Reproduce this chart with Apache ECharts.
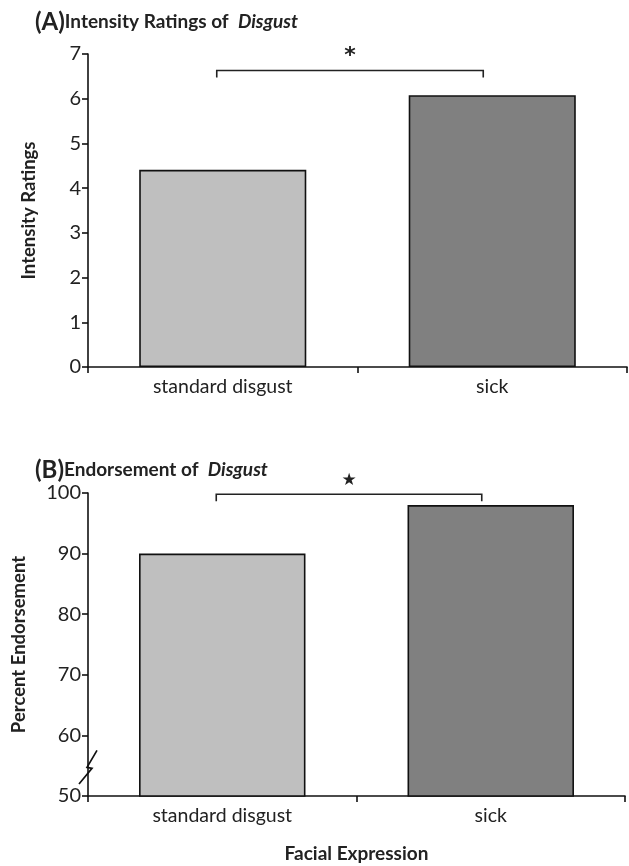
<!DOCTYPE html>
<html><head><meta charset="utf-8">
<script src="https://cdn.jsdelivr.net/npm/echarts@6/dist/echarts.min.js"></script>
<style>html,body{margin:0;padding:0;background:#fff}#c{width:629px;height:866px}</style>
</head><body><div id="c"></div>
<script>
const categories = ['standard disgust', 'sick'];
const intensityValues = [4.41, 6.08];
const endorsementValues = [90, 98];
const intensityTicks = [0, 7, 1];
const endorsementTicks = [50, 100, 10];
const barColors = ['#bfbfbf', '#808080'];
const FONT = 'Lato';

const chart = echarts.init(document.getElementById('c'), null, {renderer: 'canvas'});
const axisLine = {show: true, lineStyle: {color: '#111', width: 1.6}};
const tick = {show: true, length: 6, lineStyle: {color: '#111', width: 1.6}};
function xAx(i, name) {
  return {type: 'category', gridIndex: i, data: categories, boundaryGap: true,
    axisLine, axisTick: {...tick, inside: false, alignWithLabel: false},
    axisLabel: {fontFamily: FONT, fontSize: 19.5, color: '#222', margin: 10},
    name: name || '', nameLocation: 'middle', nameGap: 48,
    nameTextStyle: {fontFamily: FONT, fontSize: 19, fontWeight: 'bold', color: '#222'}};
}
function yAx(i, t, name, gap) {
  return {type: 'value', gridIndex: i, min: t[0], max: t[1], interval: t[2],
    axisLine, axisTick: tick, splitLine: {show: false},
    axisLabel: {fontFamily: FONT, fontSize: 20, color: '#222', margin: 7},
    name, nameLocation: 'middle', nameGap: gap, nameRotate: 90,
    nameTextStyle: {fontFamily: FONT, fontSize: 18.5, fontWeight: 'bold', color: '#222'}};
}
function bars(i, vals) {
  return {type: 'bar', xAxisIndex: i, yAxisIndex: i, barWidth: '62%',
    data: vals.map((v, k) => ({value: v, itemStyle: {color: barColors[k]}})),
    itemStyle: {borderColor: '#111', borderWidth: 1.6}, silent: true};
}
const titleRich = {
  p: {fontFamily: FONT, fontSize: 24, fontWeight: 'bold', color: '#222'},
  t: {fontFamily: FONT, fontSize: 19, fontWeight: 'bold', color: '#222'},
  i: {fontFamily: FONT, fontSize: 19, fontWeight: 'bold', fontStyle: 'italic', color: '#222'}
};
chart.setOption({
  animation: false,
  title: [
    {text: '{p|(A)}{t|Intensity Ratings of  }{i|Disgust}', left: 30, top: 5, textStyle: {rich: titleRich}},
    {text: '{p|(B)}{t|Endorsement of  }{i|Disgust}', left: 30, top: 453, textStyle: {rich: titleRich}}
  ],
  grid: [
    {left: 88, right: 2, top: 54, height: 313},
    {left: 88, right: 4, top: 493, height: 303}
  ],
  xAxis: [xAx(0), xAx(1, 'Facial Expression')],
  yAxis: [yAx(0, intensityTicks, 'Intensity Ratings', 49), yAx(1, endorsementTicks, 'Percent Endorsement', 59)],
  series: [bars(0, intensityValues), bars(1, endorsementValues)]
});

// annotations: significance brackets and axis break
function bracket(i, yTop, mark) {
  const a = chart.convertToPixel({xAxisIndex: i, yAxisIndex: i}, [0, yTop]);
  const b = chart.convertToPixel({xAxisIndex: i, yAxisIndex: i}, [1, yTop]);
  const x1 = a[0] - 6, x2 = b[0] - 9, y = a[1];
  return [
    {type: 'polyline', shape: {points: [[x1, y + 7], [x1, y], [x2, y], [x2, y + 7]]},
      style: {stroke: '#222', lineWidth: 1.6, fill: null}},
    {type: 'text', x: (x1 + x2) / 2, y: y - 14,
      style: {text: mark, fontSize: mark === '*' ? 22 : 17, fontWeight: 'bold', fontFamily: 'DejaVu Sans', fill: '#222', align: 'center', verticalAlign: 'middle'}}
  ];
}
const g = [].concat(bracket(0, 6.63, '*'), bracket(1, 99.8, '★'));
const p60 = chart.convertToPixel({yAxisIndex: 1}, 60);
const p50 = chart.convertToPixel({yAxisIndex: 1}, 50);
const axisX = 88;
g.push({type: 'rect', shape: {x: axisX - 3, y: p60 + 5, width: 6, height: (p50 - p60) - 12}, style: {fill: '#fff'}});
g.push({type: 'polyline', shape: {points: [
    [axisX + 9, p60 + 15], [axisX - 1, p60 + 32], [axisX + 4, p60 + 33], [axisX - 9, p50 - 12]]},
  style: {stroke: '#111', lineWidth: 1.7, fill: null}});
chart.setOption({graphic: g});
</script></body></html>
